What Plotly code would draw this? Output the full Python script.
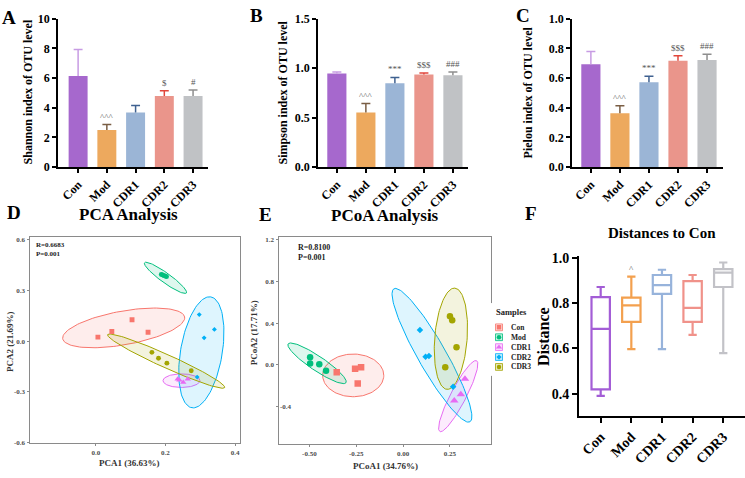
import numpy as np
import plotly.graph_objects as go

W, H = 745, 478
FONT = "Liberation Serif, Times New Roman, serif"

groups = ["Con", "Mod", "CDR1", "CDR2", "CDR3"]

# ---- alpha diversity bar charts (mean, upper SD) ----
shannon_mean = [6.14, 2.50, 3.68, 4.79, 4.79]
shannon_err = [1.79, 0.37, 0.48, 0.35, 0.41]
simpson_mean = [0.946, 0.551, 0.848, 0.936, 0.929]
simpson_err = [0.016, 0.091, 0.058, 0.016, 0.033]
pielou_mean = [0.693, 0.363, 0.572, 0.717, 0.722]
pielou_err = [0.085, 0.050, 0.041, 0.033, 0.038]
shannon_sig = ["", "^^^", "", "$", "#"]
simpson_sig = ["", "^^^", "***", "$$$", "###"]
pielou_sig = ["", "^^^", "***", "$$$", "###"]

bar_fill = ["#A668CD", "#EDA95E", "#9BB5D6", "#EA958B", "#C0C2C5"]
bar_err = ["#C79BE3", "#7A5E44", "#3F6190", "#E2463B", "#8E8E8E"]

# ---- PCA points ----
pca_x = {
    "Con": [0.006, 0.046, 0.104, 0.150],
    "Mod": [0.188, 0.192, 0.196, 0.200, 0.203],
    "CDR1": [0.235, 0.240, 0.251, 0.264],
    "CDR2": [0.297, 0.3405, 0.311, 0.291],
    "CDR3": [0.161, 0.180, 0.204, 0.274],
}
pca_y = {
    "Con": [0.023, 0.057, 0.126, 0.052],
    "Mod": [0.395, 0.392, 0.388, 0.385, 0.382],
    "CDR1": [-0.226, -0.232, -0.245, -0.226],
    "CDR2": [0.157, 0.069, 0.019, -0.214],
    "CDR3": [-0.067, -0.102, -0.131, -0.176],
}
# ellipse: centre x, centre y, semi-major vector x, y, minor/major ratio
pca_ell = {
    "Con": [0.080, 0.078, 0.175, 0.065, 0.28],
    "Mod": [0.200, 0.375, 0.060, -0.090, 0.19],
    "CDR1": [0.246, -0.235, 0.053, 0.000, 0.38],
    "CDR2": [0.303, -0.067, 0.027, 0.329, 0.36],
    "CDR3": [0.202, -0.119, 0.168, -0.157, 0.105],
}

# ---- PCoA points ----
pcoa_x = {
    "Con": [-0.354, -0.256, -0.224, -0.242],
    "Mod": [-0.496, -0.496, -0.447, -0.411],
    "CDR1": [0.330, 0.308, 0.273],
    "CDR2": [0.090, 0.120, 0.138, 0.267],
    "CDR3": [0.250, 0.262, 0.285, 0.225],
}
pcoa_y = {
    "Con": [-0.069, -0.037, -0.022, -0.177],
    "Mod": [0.075, 0.015, 0.006, -0.056],
    "CDR1": [-0.134, -0.283, -0.343],
    "CDR2": [0.336, 0.078, 0.087, -0.209],
    "CDR3": [0.467, 0.430, 0.171, -0.022],
}
pcoa_ell = {
    "Con": [-0.266, -0.100, 0.163, 0.000, 0.72],
    "Mod": [-0.459, 0.016, 0.154, -0.187, 0.21],
    "CDR1": [0.294, -0.299, 0.098, 0.340, 0.19],
    "CDR2": [0.154, 0.093, 0.2025, -0.639, 0.18],
    "CDR3": [0.255, 0.252, 0.021, 0.486, 0.31],
}

grp_color = {"Con": "#F8766D", "Mod": "#00BF7D", "CDR1": "#E76BF3",
             "CDR2": "#00B0F6", "CDR3": "#A3A500"}
grp_symbol = {"Con": "square", "Mod": "circle", "CDR1": "triangle-up",
              "CDR2": "diamond", "CDR3": "circle"}

# ---- distances to Con box stats ----
box_lo = [0.390, 0.597, 0.597, 0.660, 0.579]
box_q1 = [0.419, 0.717, 0.841, 0.717, 0.871]
box_med = [0.686, 0.790, 0.879, 0.779, 0.934]
box_q3 = [0.826, 0.824, 0.924, 0.897, 0.950]
box_hi = [0.871, 0.917, 0.947, 0.924, 0.979]
box_sig = ["", "^", "", "", ""]
box_color = ["#A35DD6", "#F3A04E", "#97B3DB", "#F0928A", "#C2C2C7"]


def rgba(hexc, a):
    h = hexc.lstrip("#")
    return "rgba(%d,%d,%d,%.2f)" % (int(h[0:2], 16), int(h[2:4], 16), int(h[4:6], 16), a)


fig = go.Figure()

# ---------- bar panels A, B, C ----------
bar_panels = [
    ("x", "y", shannon_mean, shannon_err, shannon_sig),
    ("x2", "y2", simpson_mean, simpson_err, simpson_sig),
    ("x3", "y3", pielou_mean, pielou_err, pielou_sig),
]
cap = 0.155
for xa, ya, means, errs, sigs in bar_panels:
    for i, (m, e, fc, ec, s) in enumerate(zip(means, errs, bar_fill, bar_err, sigs)):
        fig.add_trace(go.Bar(x=[i], y=[m], xaxis=xa, yaxis=ya, width=0.66,
                             marker=dict(color=fc, line=dict(width=0)),
                             showlegend=False, hoverinfo="skip"))
        fig.add_trace(go.Scatter(x=[i, i, None, i - cap, i + cap],
                                 y=[m, m + e, None, m + e, m + e],
                                 xaxis=xa, yaxis=ya, mode="lines",
                                 line=dict(color=ec, width=1.5),
                                 showlegend=False, hoverinfo="skip"))
        if s:
            fig.add_annotation(x=i, y=m + e, xref=xa, yref=ya, text=s,
                               showarrow=False, yanchor="bottom", yshift=1,
                               font=dict(family=FONT, size=9, color="#555555"))


# ---------- ordination panels D, E ----------
def ellipse(c, sx, sy, n=120):
    cx, cy, ax, ay, r = c
    t = np.linspace(0, 2 * np.pi, n)
    bx = -ay * sy / sx * r
    by = ax * sx / sy * r
    return cx + ax * np.cos(t) + bx * np.sin(t), cy + ay * np.cos(t) + by * np.sin(t)


D_dom_x, D_dom_y = [30, 240], [237, 449]
D_rx, D_ry = [-0.189, 0.414], [-0.604, 0.617]
E_dom_x, E_dom_y = [279, 491], [237, 450]
E_rx, E_ry = [-0.662, 0.469], [-0.757, 1.228]

ord_panels = [
    ("x4", "y4", pca_x, pca_y, pca_ell, D_dom_x, D_dom_y, D_rx, D_ry, 0.75),
    ("x5", "y5", pcoa_x, pcoa_y, pcoa_ell, E_dom_x, E_dom_y, E_rx, E_ry, 1.0),
]
for xa, ya, px_, py_, ell, dx, dy, rx, ry, msc in ord_panels:
    sx = (dx[1] - dx[0]) / (rx[1] - rx[0])
    sy = (dy[1] - dy[0]) / (ry[1] - ry[0])
    for g in groups:
        ex, ey = ellipse(ell[g], sx, sy)
        fig.add_trace(go.Scatter(x=ex, y=ey, xaxis=xa, yaxis=ya, mode="lines",
                                 fill="toself", fillcolor=rgba(grp_color[g], 0.13),
                                 line=dict(color=grp_color[g], width=1),
                                 showlegend=False, hoverinfo="skip"))
    for g in groups:
        size = {"square": 6.5, "circle": 6.5, "triangle-up": 7.5, "diamond": 5}[grp_symbol[g]] * msc
        fig.add_trace(go.Scatter(x=px_[g], y=py_[g], xaxis=xa, yaxis=ya, mode="markers",
                                 marker=dict(color=grp_color[g], symbol=grp_symbol[g],
                                             size=size, line=dict(width=0)),
                                 showlegend=False, hoverinfo="skip"))

# ---------- manual legend ----------
for i, g in enumerate(groups):
    yy = 330 + 10.2 * i
    fig.add_shape(type="rect", xref="x7", yref="y7", x0=495.5, x1=502.5,
                  y0=yy - 3.5, y1=yy + 3.5,
                  line=dict(color=grp_color[g], width=0.8),
                  fillcolor=rgba(grp_color[g], 0.25), layer="below")
    size = {"square": 4.5, "circle": 4.5, "triangle-up": 5.5, "diamond": 4}[grp_symbol[g]]
    fig.add_trace(go.Scatter(x=[499], y=[yy], xaxis="x7", yaxis="y7", mode="markers",
                             marker=dict(color=grp_color[g], symbol=grp_symbol[g], size=size),
                             showlegend=False, hoverinfo="skip"))
    fig.add_annotation(x=509, y=yy, xref="x7", yref="y7", text="<b>%s</b>" % g,
                       showarrow=False, xanchor="left", yanchor="middle",
                       font=dict(family=FONT, size=7.5, color="#222222"))
fig.add_annotation(x=511.5, y=314, xref="x7", yref="y7", text="<b>Samples</b>",
                   showarrow=False, xanchor="center", yanchor="middle",
                   font=dict(family=FONT, size=8.5, color="#222222"))

# ---------- box panel F ----------
for i, g in enumerate(groups):
    fig.add_trace(go.Box(x=[g], q1=[box_q1[i]], median=[box_med[i]], q3=[box_q3[i]],
                         lowerfence=[box_lo[i]], upperfence=[box_hi[i]],
                         xaxis="x6", yaxis="y6", width=0.6, whiskerwidth=0.45,
                         fillcolor="white", line=dict(color=box_color[i], width=2.2),
                         boxpoints=False, showlegend=False, hoverinfo="skip"))
    if box_sig[i]:
        fig.add_annotation(x=g, y=box_hi[i], xref="x6", yref="y6", text=box_sig[i],
                           showarrow=False, yanchor="bottom", yshift=1,
                           font=dict(family=FONT, size=9, color="#555555"))


# ---------- axes ----------
def dom_x(a):
    return [a[0] / W, min(a[1] / W, 1.0)]


def dom_y(a):
    return [1 - a[1] / H, 1 - a[0] / H]


bold_tick = lambda s, c="black": dict(family=FONT, size=s, color=c, weight="bold")
bar_y = dict(showline=True, linecolor="black", linewidth=1.5, ticks="outside", ticklen=4,
             tickwidth=1.5, tickcolor="black", showgrid=False, zeroline=False,
             tickfont=bold_tick(12))
bar_x = dict(showline=True, linecolor="black", linewidth=1.5, ticks="outside", ticklen=4,
             tickwidth=1.5, tickcolor="black", showgrid=False, zeroline=False,
             tickvals=list(range(5)), ticktext=groups, tickangle=-45,
             tickfont=bold_tick(12))
ord_ax = dict(showline=True, mirror=True, linecolor="#8a8a8a", linewidth=1, ticks="outside",
              ticklen=2.5, tickwidth=1, tickcolor="#8a8a8a", showgrid=False, zeroline=False,
              tickfont=bold_tick(7, "#4d4d4d"))
f_ax = dict(showline=True, linecolor="black", linewidth=2, ticks="outside", ticklen=5,
            tickwidth=2, tickcolor="black", showgrid=False, zeroline=False,
            tickfont=bold_tick(14))

fig.update_layout(
    width=W, height=H, autosize=False, margin=dict(l=0, r=0, t=0, b=0),
    paper_bgcolor="white", plot_bgcolor="white", barmode="overlay", boxmode="overlay",
    xaxis=dict(domain=dom_x([58, 208]), range=[-0.7, 4.52], anchor="y", **bar_x),
    yaxis=dict(domain=dom_y([12, 165]), range=[0, 10], tickvals=[0, 2, 4, 6, 8, 10],
               anchor="x", **bar_y),
    xaxis2=dict(domain=dom_x([318, 468]), range=[-0.65, 4.52], anchor="y2", **bar_x),
    yaxis2=dict(domain=dom_y([12, 165]), range=[0, 1.5], tickvals=[0, 0.5, 1.0, 1.5],
                tickformat=".1f", anchor="x2", **bar_y),
    xaxis3=dict(domain=dom_x([572, 723]), range=[-0.65, 4.55], anchor="y3", **bar_x),
    yaxis3=dict(domain=dom_y([12, 165]), range=[0, 1.0], tickvals=[0, 0.2, 0.4, 0.6, 0.8, 1.0],
                tickformat=".1f", anchor="x3", **bar_y),
    xaxis4=dict(domain=dom_x(D_dom_x), range=D_rx, anchor="y4", tickvals=[0, 0.2, 0.4],
                ticktext=["0.0", "0.2", "0.4"], **ord_ax),
    yaxis4=dict(domain=dom_y(D_dom_y), range=D_ry, anchor="x4",
                tickvals=[-0.6, -0.3, 0, 0.3, 0.6],
                ticktext=["-0.6", "-0.3", "0.0", "0.3", "0.6"], **ord_ax),
    xaxis5=dict(domain=dom_x(E_dom_x), range=E_rx, anchor="y5",
                tickvals=[-0.5, -0.25, 0, 0.25],
                ticktext=["-0.50", "-0.25", "0.00", "0.25"], **ord_ax),
    yaxis5=dict(domain=dom_y(E_dom_y), range=E_ry, anchor="x5",
                tickvals=[1.2, 0.8, 0.4, 0.0, -0.4],
                ticktext=["1.2", "0.8", "0.4", "0.0", ""], **ord_ax),
    xaxis6=dict(domain=dom_x([579, 745]), range=[-0.708, 4.71], anchor="y6",
                type="category", tickangle=-45, **f_ax),
    yaxis6=dict(domain=dom_y([256, 421.7]), range=[0.3, 1.01], anchor="x6",
                tickvals=[0.4, 0.6, 0.8, 1.0], ticktext=["0.4", "0.6", "0.8", "1.0"], **f_ax),
    xaxis7=dict(domain=dom_x([490, 545]), range=[490, 545], anchor="y7", visible=False),
    yaxis7=dict(domain=dom_y([305, 380]), range=[380, 305], anchor="x7", visible=False),
)

# odd inside "-0.4" label on PCoA y axis
fig.add_annotation(x=-0.662, y=-0.4, xref="x5", yref="y5", text="<b>-0.4</b>",
                   showarrow=False, xanchor="left", xshift=-1, yanchor="middle",
                   font=dict(family=FONT, size=7, color="#4d4d4d"))


def ann(text, px, py, size, angle=0, color="black", xanchor="center", yanchor="middle"):
    fig.add_annotation(x=px / W, y=1 - py / H, xref="paper", yref="paper", text=text,
                       showarrow=False, xanchor=xanchor, yanchor=yanchor, textangle=angle,
                       align="left", font=dict(family=FONT, size=size, color=color))


# panel letters
for t, x, y in [("A", 8.5, 11), ("B", 256.5, 9), ("C", 523, 9),
                ("D", 13.5, 211.5), ("E", 265.5, 214), ("F", 531, 213)]:
    ann("<b>%s</b>" % t, x, y, 19)

# bar titles
ann("<b>Shannon index of OTU level</b>", 28, 88, 12, -90)
ann("<b>Simpson index of OTU level</b>", 283, 88, 12, -90)
ann("<b>Pielou index of OTU level</b>", 528, 88, 12, -90)

# ordination titles
ann("<b>PCA Analysis</b>", 128, 214, 17)
ann("<b>PCoA Analysis</b>", 385, 215, 17)
ann("<b>PCA1 (36.63%)</b>", 129, 470, 9, 0, "#333333")
ann("<b>PCA2 (21.69%)</b>", 10, 345, 9, -90, "#333333")
ann("<b>PCoA1 (34.76%)</b>", 385, 472.5, 9, 0, "#333333")
ann("<b>PCoA2 (17.71%)</b>", 254, 335, 9, -90, "#333333")
ann("<b>R=0.6683</b><br><b>P=0.001</b>", 34, 239, 7, 0, "#222222", "left", "top")
ann("<b>R=0.8100</b><br><b>P=0.001</b>", 296, 241.5, 8, 0, "#222222", "left", "top")

# F titles
ann("<b>Distances to Con</b>", 661.7, 233, 15)
ann("<b>Distance</b>", 543, 340, 16, -90)

fig.write_html("out.html", config={"displayModeBar": False})
